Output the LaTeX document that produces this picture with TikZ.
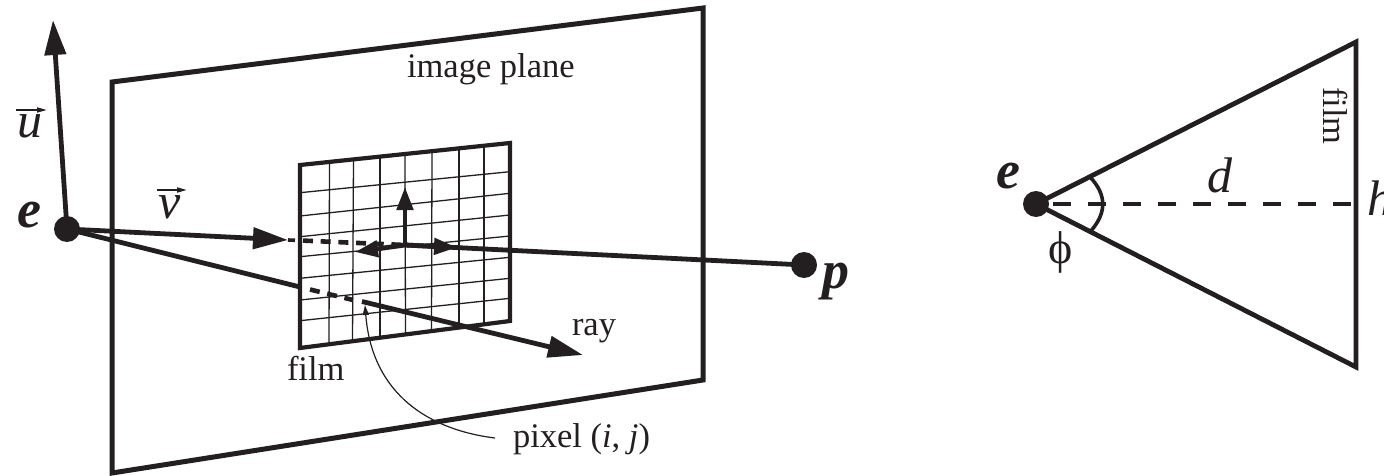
\documentclass[tikz,border=0pt]{standalone}
\usepackage{fontspec}
\setmainfont{Liberation Serif}
\usetikzlibrary{arrows.meta,calc}
\definecolor{ink}{HTML}{231F20}
\tikzset{
  heavy/.style={draw=ink,line width=4.8pt},
  frame/.style={draw=ink,line width=5pt,line join=miter},
  grid line/.style={draw=ink,line width=1.3pt},
  dash line/.style={draw=ink,line width=4.6pt,dash pattern=on 10pt off 7.7pt},
  long dash/.style={draw=ink,line width=4.6pt,dash pattern=on 17.5pt off 17.5pt},
  big tip/.style={-{Triangle[length=35pt,width=21pt,color=ink]}},
  mid tip/.style={-{Triangle[length=23pt,width=16pt,color=ink]}},
  dot/.style={circle,fill=ink,draw=none,minimum size=26pt,inner sep=0pt},
  lbl/.style={anchor=base west,inner sep=0pt,outer sep=0pt,text=ink,font=\fontsize{34.5}{36}\selectfont},
  big/.style={anchor=base west,inner sep=0pt,outer sep=0pt,text=ink,font=\fontsize{50}{52}\selectfont\itshape},
  bold/.style={anchor=base west,inner sep=0pt,outer sep=0pt,text=ink,font=\fontsize{54}{56}\selectfont\bfseries\itshape},
  over arrow/.style={draw=ink,line width=1.6pt,-{Triangle[length=10pt,width=5pt,color=ink]}}
}
\begin{document}
\begin{tikzpicture}[x=1pt,y=-1pt]
\useasboundingbox (0,0) rectangle (1384,476);
\clip (0,0) rectangle (1384,476);
% image plane
\coordinate (ip1) at (112,82);
\coordinate (ip2) at (703,8);
\coordinate (ip3) at (703,380);
\coordinate (ip4) at (112,473);
\draw[frame] (ip1) -- (ip2) -- (ip3) -- (ip4) -- cycle;
% film corners
\coordinate (f1) at (300,165);
\coordinate (f2) at (510,143);
\coordinate (f3) at (510,321);
\coordinate (f4) at (300,348);
% film grid
\foreach \xa/\xb in {329.5/329,353.5/352.5,380/380,405/405.5,432/431.5,459/459,484/484}{
  \coordinate (gt) at (\xa,{165-22*(\xa-300)/210});
  \coordinate (gb) at (\xb,{348-27*(\xb-300)/210});
  \draw[grid line] (gt) -- (gb);
}
\foreach \ya/\yb in {192.7/171.7,216/193.3,236.7/215,256.7/236,278.3/257.3,300/278.3,320.7/298.3}{
  \coordinate (gl) at (300,\ya);
  \coordinate (gr) at (510,\yb);
  \draw[grid line] (gl) -- (gr);
}
\draw[draw=ink,line width=4.2pt] (f1) -- (f2) -- (f3) -- (f4) -- cycle;
% dots
\node[dot] (e) at (67,229) {};
\node[dot] (p) at (804,265) {};
\node[dot] (e2) at (1036,204) {};
% camera axes
\coordinate (utip) at (53,20);
\coordinate (vtip) at (288,240);
\coordinate (vstub) at (295,240.3);
\coordinate (vdash) at (303,240.6);
\coordinate (c) at (405,245);
\coordinate (cup) at (405,187);
\coordinate (cleft) at (355,252);
\coordinate (cright) at (457,247.5);
\draw[heavy,big tip] (e.center) -- (utip);
\draw[heavy,big tip] (e.center) -- (vtip);
\draw[heavy,line width=3.6pt] (vtip) -- (vstub);
\draw[dash line] (vdash) -- (c);
\draw[heavy] (c) -- (p.center);
\draw[heavy,mid tip] (c) -- (cup);
\draw[heavy,mid tip] (c) -- (cleft);
\draw[heavy,mid tip] (c) -- (cright);
% ray
\coordinate (rin) at (300,287);
\coordinate (rd1) at (310,289.5);
\coordinate (rd2) at (353,300);
\coordinate (pix) at (362,301.5);
\coordinate (rtip) at (583,355);
\draw[heavy] (e.center) -- (rin);
\draw[dash line] (rd1) -- (rd2);
\draw[heavy,big tip] (pix) -- (rtip);
% pixel leader
\node[lbl] (pixlabel) at (513,447) {pixel (\textit{i}, \textit{j})};
\coordinate (pixhead) at (365,305);
\coordinate (pixfoot) at (495,438);
\draw[draw=ink,line width=1.2pt,-{Triangle[length=10pt,width=6pt,color=ink]}]
  (pixfoot) .. controls (430,430) and (372,395) .. (pixhead);
% labels left
\node[lbl] (imgplane) at (407,78) {image plane};
\node[lbl] (film) at (287,380) {film};
\node[lbl] (ray) at (572,335) {ray};
\node[big] (u) at (17,138) {u};
\coordinate (ua) at (16,110);
\coordinate (ub) at (47,110);
\draw[over arrow] (ua) -- (ub);
\node[big] (v) at (158,218) {v};
\coordinate (va) at (157,190);
\coordinate (vb) at (187,190);
\draw[over arrow] (va) -- (vb);
\node[bold] (elabel) at (17,227) {e};
\node[bold] (plabel) at (822,288) {p};
% right figure
\coordinate (ft) at (1356,42);
\coordinate (fb) at (1356,367);
\coordinate (fm) at (1356,204);
\coordinate (fs) at (1053,204);
\coordinate (aa) at (1090,177);
\coordinate (ab) at (1090,232);
\draw[heavy,line cap=round] (e2.center) -- (ft) -- (fb) -- (e2.center);
\draw[long dash] (fs) -- (fm);
\draw[draw=ink,line width=3.6pt] (aa) .. controls (1107,195) and (1107,213) .. (ab);
\node[bold] (e2label) at (996,188) {e};
\node[big] (d) at (1207,193) {d};
\node[big] (h) at (1367,215) {h};
\node[lbl,anchor=center,font=\fontsize{46}{48}\selectfont] (phi) at (1061,252) {ϕ};
\node[lbl,anchor=center,rotate=-90] (film2) at (1336,116) {film};
\end{tikzpicture}
\end{document}
